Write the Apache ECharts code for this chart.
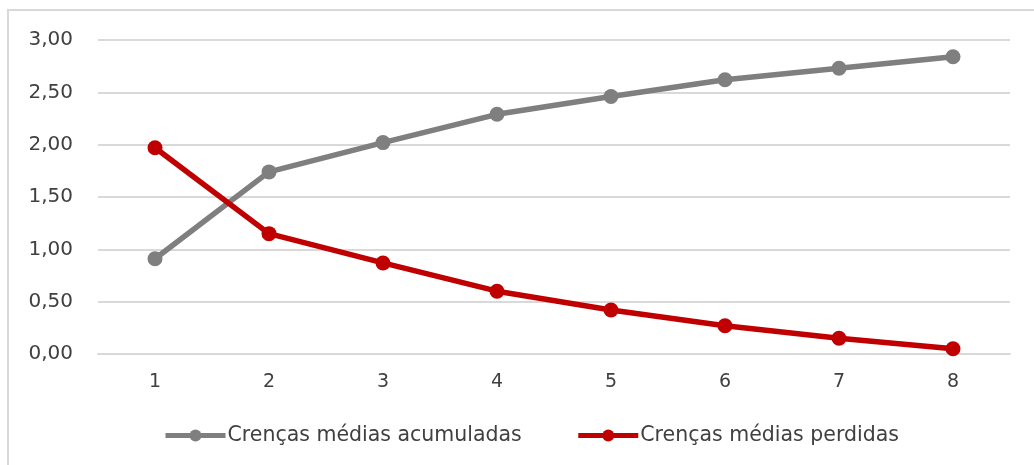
<!DOCTYPE html>
<html>
<head>
<meta charset="utf-8">
<script src="https://cdn.jsdelivr.net/npm/echarts@6/dist/echarts.min.js"></script>
<style>
  html, body { margin: 0; padding: 0; background: #ffffff; }
  #chart { width: 1034px; height: 465px; }
</style>
</head>
<body>
<div id="chart"></div>
<script>
// Categories along the x axis
const categories = ['1', '2', '3', '4', '5', '6', '7', '8'];

// Series values
const acumuladas = [0.91, 1.74, 2.02, 2.29, 2.46, 2.62, 2.73, 2.84];
const perdidas = [1.97, 1.15, 0.87, 0.60, 0.42, 0.27, 0.15, 0.05];

// Series names shown in the legend
const seriesNames = ['Crenças médias acumuladas', 'Crenças médias perdidas'];

const FONT = '"DejaVu Sans", "Liberation Sans", sans-serif';

const chart = echarts.init(document.getElementById('chart'), null, { renderer: 'canvas' });

chart.setOption({
  backgroundColor: '#ffffff',
  animation: false,
  graphic: [{
    type: 'rect',
    shape: { x: 8, y: 10, width: 1200, height: 1000 },
    style: { fill: 'none', stroke: '#d9d9d9', lineWidth: 2 },
    silent: true,
    z: -1
  }],
  grid: { left: 98, right: 24, top: 40, bottom: 111 },
  legend: {
    left: 163,
    top: 425,
    padding: 0,
    itemWidth: 60,
    itemHeight: 15,
    itemGap: 54,
    lineStyle: { width: 5 },
    textStyle: { fontFamily: FONT, fontSize: 20.5, color: '#404040', padding: [0, 0, 0, -3] },
    data: seriesNames
  },
  xAxis: {
    type: 'category',
    data: categories,
    boundaryGap: true,
    axisLine: { show: true, lineStyle: { color: '#d9d9d9', width: 2 } },
    axisTick: { show: false },
    axisLabel: { margin: 19, fontFamily: FONT, fontSize: 19, color: '#404040' },
    splitLine: { show: false }
  },
  yAxis: {
    type: 'value',
    min: 0,
    max: 3,
    interval: 0.5,
    axisLine: { show: false },
    axisTick: { show: false },
    axisLabel: {
      margin: 25,
      fontFamily: FONT,
      fontSize: 20,
      color: '#404040',
      formatter: v => v.toFixed(2).replace('.', ',')
    },
    splitLine: { lineStyle: { color: '#d9d9d9', width: 2 } }
  },
  series: [
    {
      name: seriesNames[0],
      type: 'line',
      data: acumuladas,
      symbol: 'circle',
      symbolSize: 15,
      itemStyle: { color: '#7f7f7f' },
      lineStyle: { color: '#7f7f7f', width: 5.5 }
    },
    {
      name: seriesNames[1],
      type: 'line',
      data: perdidas,
      symbol: 'circle',
      symbolSize: 15,
      itemStyle: { color: '#c00000' },
      lineStyle: { color: '#c00000', width: 5.5 }
    }
  ]
});
</script>
</body>
</html>
